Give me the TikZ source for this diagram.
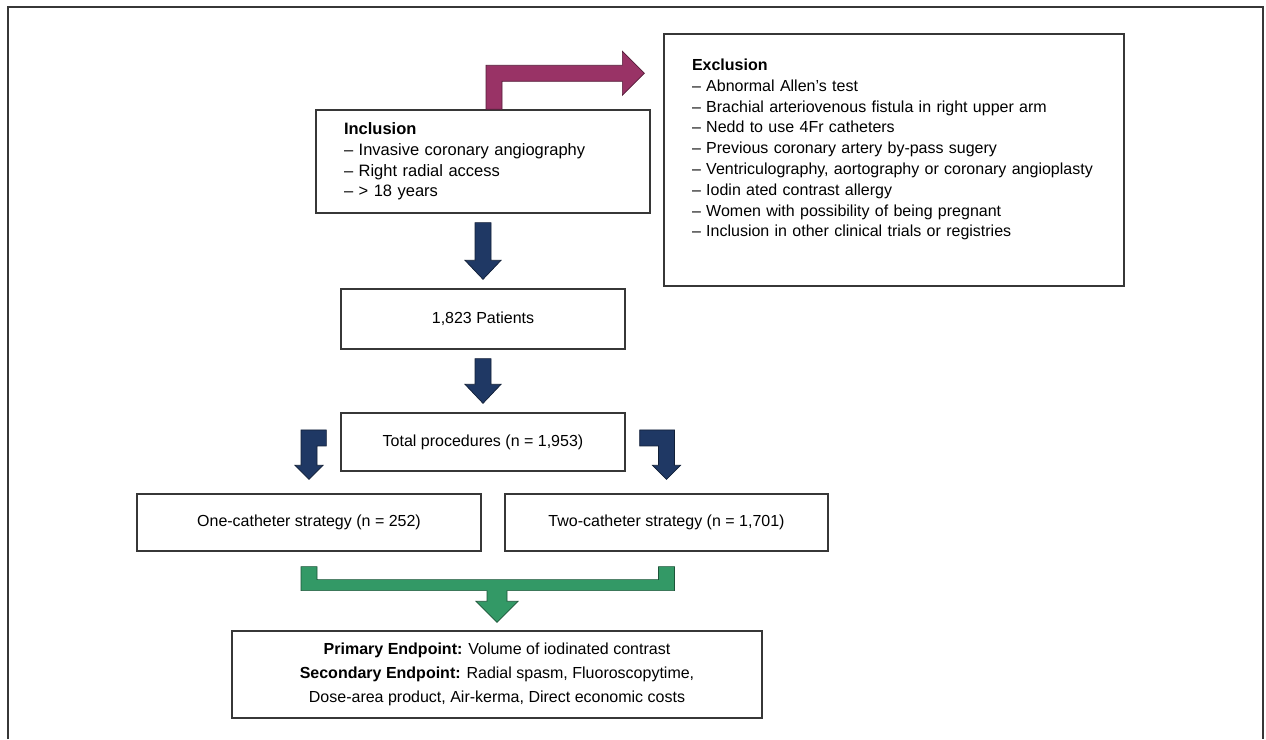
\documentclass[tikz,border=0pt]{standalone}
\usepackage{fontspec}
\setmainfont{Liberation Sans}
\usetikzlibrary{calc}

\definecolor{arrowplum}{RGB}{153,51,102}
\definecolor{arrownavy}{RGB}{31,56,100}
\definecolor{arrowgreen}{RGB}{51,153,102}
\definecolor{boxline}{RGB}{55,55,55}

\tikzset{
  box/.style={draw=boxline, line width=1.3pt, inner sep=0pt,
    font=\fontsize{16}{20.8}\selectfont},
  listbox/.style={box, align=left, inner xsep=28pt},
  blockarrow/.style={fill=#1, draw=#1!55!black, line width=0.7pt, line join=miter},
}

\begin{document}
\begin{tikzpicture}[x=1pt,y=1pt]
        \useasboundingbox (0,0) rectangle (1266,739);
        % outer frame, open at the bottom
        \draw[boxline, line width=1.6pt] (8,0) -- (8,732) -- (1263,732) -- (1263,0);

        % boxes
        \node[listbox, text width=278, minimum height=103, font=\fontsize{16.5}{20.7}\selectfont] (incl) at (483,577.5)
            {\textbf{Inclusion}\\– Invasive coronary angiography\\– Right radial access\\– > 18 years};
        \node[listbox, text width=404, minimum height=252] (excl) at (894,579)
            {\textbf{Exclusion}\\– Abnormal Allen’s test\\– Brachial arteriovenous fistula in right upper arm\\
             – Nedd to use 4Fr catheters\\– Previous coronary artery by-pass sugery\\
             – Ventriculography, aortography or coronary angioplasty\\– Iodin ated contrast allergy\\
             – Women with possibility of being pregnant\\
             – Inclusion in other clinical trials or registries\rule[-24pt]{0pt}{24pt}};
        \node[box, minimum width=284, minimum height=60] (pat) at (483,420) {1,823 Patients};
        \node[box, minimum width=284, minimum height=58] (tot) at (483,297) {Total procedures (n = 1,953)};
        \node[box, minimum width=344, minimum height=57] (one) at (309,216.5) {One-catheter strategy (n = 252)};
        \node[box, minimum width=323, minimum height=57] (two) at (666.5,216.5) {Two-catheter strategy (n = 1,701)};
        \node[box, minimum width=530, minimum height=87, align=center,
              font=\fontsize{16}{24}\selectfont] (prim) at (497,64.5)
            {\textbf{Primary Endpoint:} Volume of iodinated contrast\\
             \textbf{Secondary Endpoint:} Radial spasm, Fluoroscopytime,\\
             Dose-area product, Air-kerma, Direct economic costs};

        % bent arrow to the exclusion box
        \coordinate (pfoot) at ($(incl.north)+(11,0)$);
        \coordinate (ptip) at ($(excl.north west)+(-19,-40)$);
        \filldraw[blockarrow=arrowplum] ($(pfoot)+(-8,0)$) -- ($(pfoot |- ptip)+(-8,8)$)
            -- ($(ptip)+(-22,8)$) -- ($(ptip)+(-22,22)$) -- (ptip) -- ($(ptip)+(-22,-22)$)
            -- ($(ptip)+(-22,-8)$) -- ($(pfoot |- ptip)+(8,-8)$) -- ($(pfoot)+(8,0)$) -- cycle;

        % straight arrows down the middle
        \foreach \a/\b in {incl/pat, pat/tot}
            \filldraw[blockarrow=arrownavy] ($(\a.south)+(-8,-9)$) -- ($(\b.north)+(-8,28)$)
                -- ($(\b.north)+(-18,28)$) -- ($(\b.north)+(0,9)$) -- ($(\b.north)+(18,28)$)
                -- ($(\b.north)+(8,28)$) -- ($(\a.south)+(8,-9)$) -- cycle;

        % split arrows to both strategies
        \foreach \side/\b/\s in {west/one/1, east/two/-1} {
            \coordinate (lend) at ($(tot.\side)+({-14*\s},4)$);
            \coordinate (ltip) at ($(\b.north)+(0,14)$);
            \filldraw[blockarrow=arrownavy] ($(lend)+(0,8)$) -- ($(lend -| ltip)+({-8*\s},8)$)
                -- ($(ltip)+({-8*\s},14)$) -- ($(ltip)+({-14*\s},14)$) -- (ltip)
                -- ($(ltip)+({14*\s},14)$) -- ($(ltip)+({8*\s},14)$)
                -- ($(lend -| ltip)+({8*\s},-8)$) -- ($(lend)+(0,-8)$) -- cycle;
        }

        % joining arrow to the endpoints
        \coordinate (gl) at ($(one.south)+(0,-15)$);
        \coordinate (gr) at ($(two.south)+(0,-15)$);
        \coordinate (gtip) at ($(prim.north)+(0,8)$);
        \filldraw[blockarrow=arrowgreen] ($(gl)+(-8,0)$) -- ($(gl)+(8,0)$) -- ($(gl)+(8,-13)$)
            -- ($(gr)+(-8,-13)$) -- ($(gr)+(-8,0)$) -- ($(gr)+(8,0)$) -- ($(gr)+(8,-24)$)
            -- ($(gl -| gtip)+(10,-24)$) -- ($(gtip)+(10,21)$) -- ($(gtip)+(21,21)$) -- (gtip)
            -- ($(gtip)+(-21,21)$) -- ($(gtip)+(-10,21)$) -- ($(gl -| gtip)+(-10,-24)$)
            -- ($(gl)+(-8,-24)$) -- cycle;
\end{tikzpicture}
\end{document}
